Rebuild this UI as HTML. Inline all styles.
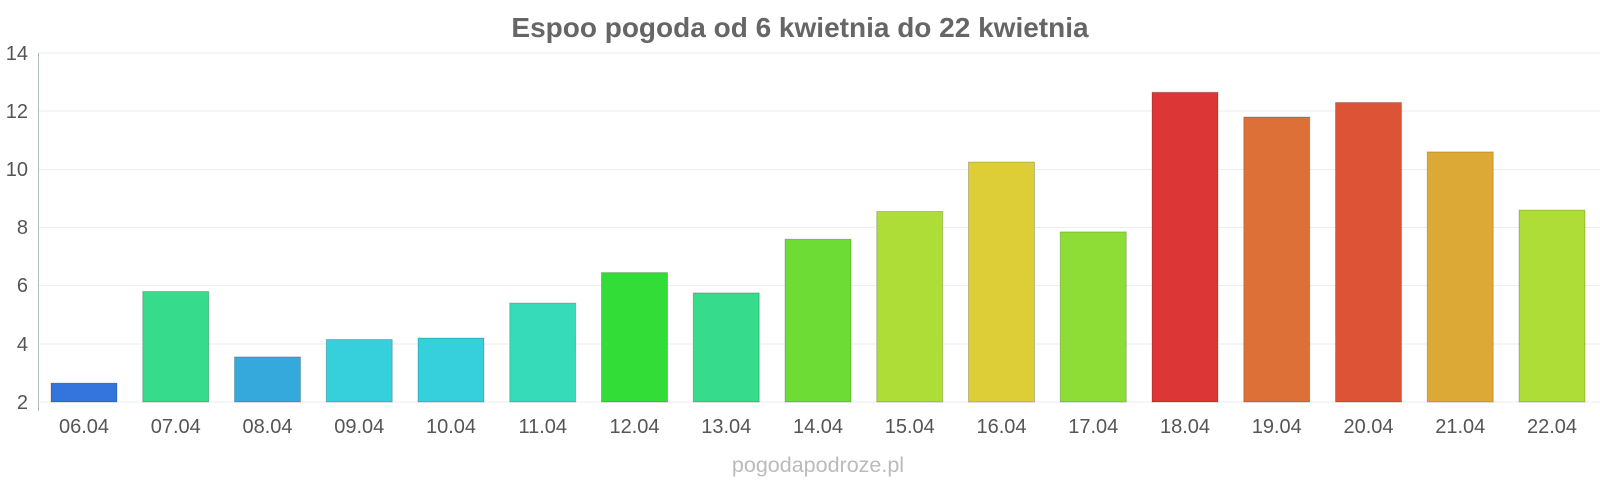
<!DOCTYPE html><html><head><style>body{margin:0;background:#fff}svg{display:block}text{font-family:"Liberation Sans",sans-serif}</style></head><body>
<svg width="1600" height="480" xmlns="http://www.w3.org/2000/svg">
<text x="800" y="37" text-anchor="middle" font-size="28" font-weight="bold" fill="#666">Espoo pogoda od 6 kwietnia do 22 kwietnia</text>
<g stroke="#eee" stroke-width="1">
<line x1="38" x2="1600" y1="53" y2="53"/><line x1="38" x2="1600" y1="111" y2="111"/><line x1="38" x2="1600" y1="169.5" y2="169.5"/><line x1="38" x2="1600" y1="227.5" y2="227.5"/><line x1="38" x2="1600" y1="285.5" y2="285.5"/><line x1="38" x2="1600" y1="344" y2="344"/><line x1="38" x2="1600" y1="402" y2="402"/>
</g>
<line x1="38.5" x2="38.5" y1="53" y2="411" stroke="#b0bcbc"/>
<g font-size="20" fill="#555" text-anchor="end">
<text x="28" y="60">14</text><text x="28" y="118">12</text><text x="28" y="176">10</text><text x="28" y="234">8</text><text x="28" y="292">6</text><text x="28" y="351">4</text><text x="28" y="409">2</text></g>
<g stroke-opacity="0.2" stroke="#000" stroke-width="1">
<rect x="51" y="383.1" width="66" height="18.9" fill="#3474dd"/>
<rect x="142.75" y="291.5" width="66" height="110.5" fill="#36db8b"/>
<rect x="234.5" y="356.9" width="66" height="45.1" fill="#36a9dc"/>
<rect x="326.25" y="339.5" width="66" height="62.5" fill="#36cfdc"/>
<rect x="418" y="338.0" width="66" height="64.0" fill="#36cfdc"/>
<rect x="509.75" y="303.1" width="66" height="98.9" fill="#36dbba"/>
<rect x="601.5" y="272.6" width="66" height="129.4" fill="#33dd38"/>
<rect x="693.25" y="292.9" width="66" height="109.1" fill="#36db8b"/>
<rect x="785" y="239.2" width="66" height="162.8" fill="#6ddd36"/>
<rect x="876.75" y="211.5" width="66" height="190.5" fill="#addd36"/>
<rect x="968.5" y="162.1" width="66" height="239.9" fill="#ddcd36"/>
<rect x="1060.25" y="231.9" width="66" height="170.1" fill="#8ddd36"/>
<rect x="1152" y="92.3" width="66" height="309.7" fill="#dd3636"/>
<rect x="1243.75" y="117.0" width="66" height="285.0" fill="#dd7036"/>
<rect x="1335.5" y="102.5" width="66" height="299.5" fill="#dd5336"/>
<rect x="1427.25" y="151.9" width="66" height="250.1" fill="#dda936"/>
<rect x="1519" y="210.1" width="66" height="191.9" fill="#addd36"/>
</g>
<g font-size="20" fill="#555" text-anchor="middle">
<text x="84" y="433">06.04</text><text x="175.75" y="433">07.04</text><text x="267.5" y="433">08.04</text><text x="359.25" y="433">09.04</text><text x="451" y="433">10.04</text><text x="542.75" y="433">11.04</text><text x="634.5" y="433">12.04</text><text x="726.25" y="433">13.04</text><text x="818" y="433">14.04</text><text x="909.75" y="433">15.04</text><text x="1001.5" y="433">16.04</text><text x="1093.25" y="433">17.04</text><text x="1185" y="433">18.04</text><text x="1276.75" y="433">19.04</text><text x="1368.5" y="433">20.04</text><text x="1460.25" y="433">21.04</text><text x="1552" y="433">22.04</text>
</g>
<text x="818" y="472" text-anchor="middle" font-size="21.5" fill="#bbb">pogodapodroze.pl</text>
</svg></body></html>
